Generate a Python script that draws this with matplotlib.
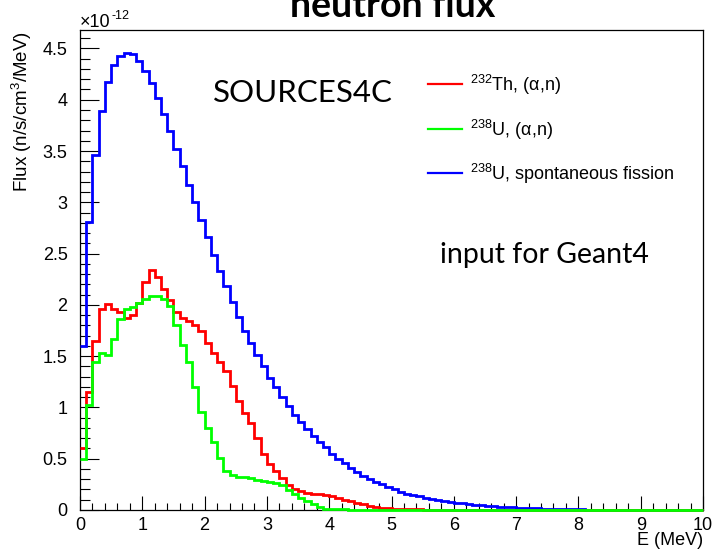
import numpy as np
import matplotlib
matplotlib.use("Agg")
import matplotlib.pyplot as plt
from matplotlib.lines import Line2D
from matplotlib.ticker import MultipleLocator, FuncFormatter

plt.rcParams['font.family'] = ['Liberation Sans', 'DejaVu Sans']
plt.rcParams['mathtext.fontset'] = 'custom'
plt.rcParams['mathtext.rm'] = 'Liberation Sans'
plt.rcParams['mathtext.it'] = 'Liberation Sans:italic'
plt.rcParams['mathtext.bf'] = 'Liberation Sans:bold'

# ---- data (flux in units of 1e-12 n/s/cm^3/MeV), 100 bins of 0.1 MeV from 0 to 10 MeV ----
bin_edges = np.linspace(0.0, 10.0, 101)

flux_th232_an = [
    0.60, 1.15, 1.65, 1.96, 2.01, 1.96, 1.93, 1.87, 1.90, 2.02,
    2.22, 2.34, 2.27, 2.15, 2.05, 1.93, 1.87, 1.84, 1.80, 1.745,
    1.63, 1.53, 1.445, 1.355, 1.21, 1.065, 0.95, 0.845, 0.70, 0.55,
    0.45, 0.38, 0.315, 0.245, 0.20, 0.185, 0.17, 0.16, 0.155, 0.146,
    0.133, 0.12, 0.10, 0.088, 0.07, 0.055, 0.042, 0.032, 0.022, 0.016,
    0.012, 0.009, 0.007, 0.006, 0.005, 0.004, 0.003, 0.003, 0.002, 0.002,
    0.002, 0.002, 0.001, 0.001, 0.001, 0.0, 0.0, 0.0, 0.0, 0.0,
    0.0, 0.0, 0.0, 0.0, 0.0, 0.0, 0.0, 0.0, 0.0, 0.0,
    0.0, 0.0, 0.0, 0.0, 0.0, 0.0, 0.0, 0.0, 0.0, 0.0,
    0.0, 0.0, 0.0, 0.0, 0.0, 0.0, 0.0, 0.0, 0.0, 0.0,
]

flux_u238_an = [
    0.50, 1.02, 1.445, 1.53, 1.51, 1.67, 1.86, 1.96, 1.98, 2.02,
    2.06, 2.09, 2.09, 2.06, 1.99, 1.80, 1.61, 1.44, 1.20, 0.96,
    0.80, 0.66, 0.51, 0.38, 0.34, 0.325, 0.32, 0.31, 0.29, 0.285,
    0.275, 0.265, 0.24, 0.195, 0.155, 0.12, 0.092, 0.06, 0.026, 0.013,
    0.008, 0.006, 0.005, 0.004, 0.003, 0.003, 0.002, 0.002, 0.002, 0.001,
    0.001, 0.001, 0.001, 0.0, 0.0, 0.0, 0.0, 0.0, 0.0, 0.0,
    0.0, 0.0, 0.0, 0.0, 0.0, 0.0, 0.0, 0.0, 0.0, 0.0,
    0.0, 0.0, 0.0, 0.0, 0.0, 0.0, 0.0, 0.0, 0.0, 0.0,
    0.0, 0.0, 0.0, 0.0, 0.0, 0.0, 0.0, 0.0, 0.0, 0.0,
    0.0, 0.0, 0.0, 0.0, 0.0, 0.0, 0.0, 0.0, 0.0, 0.0,
]

flux_u238_sf = [
    1.60, 2.81, 3.46, 3.89, 4.17, 4.34, 4.43, 4.46, 4.45, 4.38,
    4.28, 4.16, 4.02, 3.86, 3.70, 3.52, 3.35, 3.17, 3.00, 2.83,
    2.66, 2.49, 2.33, 2.18, 2.03, 1.88, 1.75, 1.63, 1.51, 1.40,
    1.29, 1.20, 1.10, 1.01, 0.93, 0.86, 0.79, 0.72, 0.66, 0.61,
    0.55, 0.50, 0.455, 0.41, 0.37, 0.33, 0.30, 0.27, 0.25, 0.22,
    0.20, 0.18, 0.16, 0.146, 0.133, 0.12, 0.107, 0.097, 0.088, 0.080,
    0.072, 0.065, 0.058, 0.052, 0.046, 0.041, 0.036, 0.032, 0.028, 0.025,
    0.022, 0.019, 0.017, 0.015, 0.013, 0.011, 0.010, 0.008, 0.007, 0.006,
    0.005, 0.004, 0.004, 0.003, 0.003, 0.002, 0.002, 0.002, 0.001, 0.001,
    0.001, 0.001, 0.001, 0.0, 0.0, 0.0, 0.0, 0.0, 0.0, 0.0,
]

series_labels = [r"$^{232}$Th, (α,n)", r"$^{238}$U, (α,n)", r"$^{238}$U, spontaneous fission"]
series_colors = ["#ff0000", "#00ff00", "#0000ff"]

W, H = 713, 551
fig = plt.figure(figsize=(W / 100, H / 100), dpi=100)

def fx(px):
    return px / W

def fy(py):
    return 1 - py / H

ax_l, ax_r, ax_t, ax_b = 80, 703, 30, 510
ax = fig.add_axes([fx(ax_l), fy(ax_b), (ax_r - ax_l) / W, (ax_b - ax_t) / H])

# draw order: blue, red, green (green on top)
lw = 2.0
ax.stairs(flux_u238_sf, bin_edges, baseline=None, color=series_colors[2], lw=lw, zorder=3, clip_on=False)
ax.stairs(flux_th232_an, bin_edges, baseline=None, color=series_colors[0], lw=lw, zorder=3, clip_on=False)
ax.stairs(flux_u238_an, bin_edges, baseline=None, color=series_colors[1], lw=lw, zorder=3, clip_on=False)

ax.set_xlim(0, 10)
ax.set_ylim(0, 4.68)

ax.xaxis.set_major_locator(MultipleLocator(1))
ax.xaxis.set_minor_locator(MultipleLocator(0.2))
ax.yaxis.set_major_locator(MultipleLocator(0.5))
ax.yaxis.set_minor_locator(MultipleLocator(0.1))
ax.yaxis.set_major_formatter(FuncFormatter(lambda v, p: "%g" % round(v, 3)))
ax.xaxis.set_major_formatter(FuncFormatter(lambda v, p: "%g" % round(v, 3)))

ax.tick_params(axis='y', which='major', direction='in', length=13.7, width=0.8, labelsize=13, pad=9)
ax.tick_params(axis='y', which='minor', direction='in', length=7, width=0.8)
ax.tick_params(axis='x', which='major', direction='in', length=10, width=0.8, labelsize=13, pad=5)
ax.tick_params(axis='x', which='minor', direction='in', length=5, width=0.8)
ax.tick_params(top=False, right=False, which='both')
for s in ax.spines.values():
    s.set_linewidth(0.9)

# axis labels
fig.text(fx(703), fy(545), "E (MeV)", ha='right', va='baseline', fontsize=13)
fig.text(fx(22), fy(31), "Flux (n/s/cm$^{3}$/MeV)", rotation=90, ha='center', va='top', fontsize=13.5)

# exponent
fig.text(fx(80), fy(27), r"×10", ha='left', va='baseline', fontsize=13)
fig.text(fx(111), fy(19), "-12", ha='left', va='baseline', fontsize=9)

# title (cut off at top, as in the original)
fig.text(fx(393), fy(17), "neutron flux", ha='center', va='baseline', fontsize=27,
         fontweight='bold', family=['Lato', 'DejaVu Sans'])

# annotations
fig.text(fx(213), fy(102), "SOURCES4C", ha='left', va='baseline', fontsize=22.5,
         family=['Lato', 'DejaVu Sans'])
fig.text(fx(440), fy(263), "input for Geant4", ha='left', va='baseline', fontsize=20.5,
         family=['Lato', 'DejaVu Sans'])

# legend
leg_rows = [84.3, 129.3, 173.3]
for lab, col, ry in zip(series_labels, series_colors, leg_rows):
    fig.add_artist(Line2D([fx(428), fx(462)], [fy(ry), fy(ry)], color=col, lw=1.6,
                          transform=fig.transFigure))
    fig.text(fx(470), fy(ry + 6.7), lab, ha='left', va='baseline', fontsize=13)

fig.savefig("out.png", dpi=100)
